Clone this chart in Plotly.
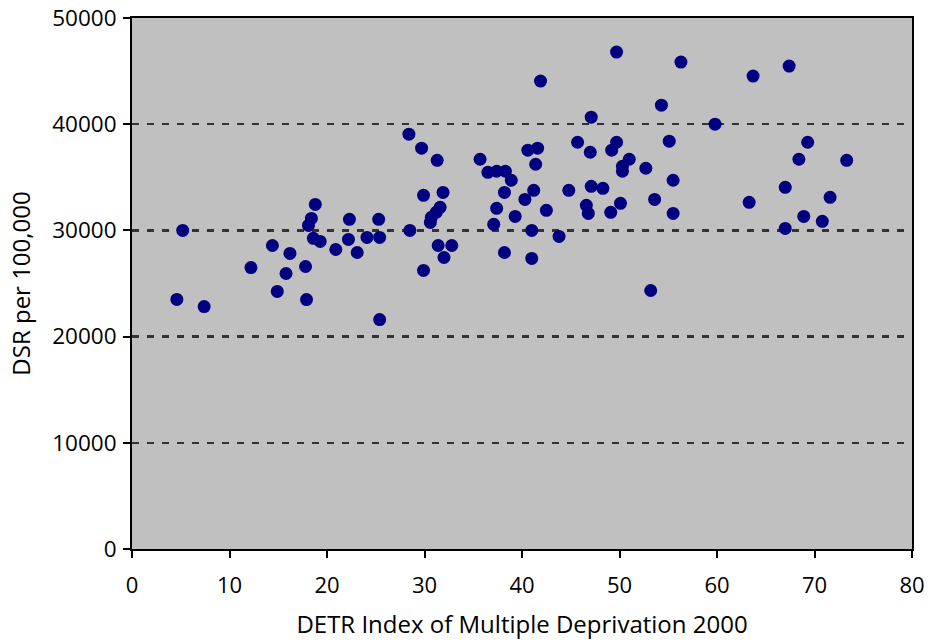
import plotly.graph_objects as go

# DETR Index of Multiple Deprivation 2000 (x) vs DSR per 100,000 (y)
imd = [4.6, 5.2, 7.4, 12.2, 14.4, 14.9, 15.8, 16.2, 17.8, 17.9,
       18.1, 18.4, 18.8, 18.6, 19.3, 20.9, 22.3, 22.2, 23.1, 24.1,
       25.3, 25.4, 25.4, 28.4, 28.5, 29.7, 29.9, 29.9, 30.6, 30.7,
       31.2, 31.3, 31.4, 31.6, 31.9, 32.0, 32.8, 35.7, 36.5, 37.1,
       37.4, 37.4, 38.3, 38.2, 38.2, 38.9, 39.3, 40.3, 40.6, 41.0,
       41.0, 41.2, 41.4, 41.6, 41.9, 42.5, 43.8, 44.8, 45.7, 46.6,
       46.8, 47.0, 47.1, 47.1, 48.3, 49.1, 49.2, 49.7, 49.7, 50.1,
       50.3, 50.3, 51.0, 52.7, 53.2, 53.6, 54.3, 55.1, 55.5, 55.5,
       56.3, 59.8, 63.3, 63.7, 67.0, 67.0, 67.4, 68.4, 68.9, 69.3,
       70.8, 71.6, 73.3]

dsr = [23500, 30000, 22830, 26500, 28580, 24250, 25940, 27830, 26600, 23490,
       30470, 31130, 32450, 29250, 28960, 28200, 31040, 29150, 27920, 29340,
       31040, 29340, 21600, 39060, 30000, 37740, 33300, 26230, 30750, 31230,
       31700, 36600, 28580, 32170, 33580, 27450, 28580, 36700, 35470, 30570,
       35570, 32080, 35570, 33580, 27920, 34720, 31320, 32920, 37550, 30000,
       27360, 33770, 36230, 37740, 44060, 31890, 29430, 33770, 38300, 32360,
       31600, 37360, 40660, 34150, 33960, 31700, 37550, 46790, 38300, 32550,
       36040, 35570, 36700, 35850, 24340, 32920, 41790, 38400, 34720, 31600,
       45850, 40000, 32640, 44530, 34060, 30190, 45470, 36700, 31320, 38300,
       30850, 33110, 36600]

x_ticks = [0, 10, 20, 30, 40, 50, 60, 70, 80]
y_ticks = [0, 10000, 20000, 30000, 40000, 50000]

FONT = "Open Sans"

fig = go.Figure()
fig.add_trace(go.Scatter(
    x=imd, y=dsr, mode="markers",
    marker=dict(color="#000080", size=13, line=dict(width=0)),
    showlegend=False, cliponaxis=False, hoverinfo="skip",
))

fig.update_layout(
    width=928, height=642,
    margin=dict(l=132, r=16, t=18, b=93, autoexpand=False),
    paper_bgcolor="white",
    plot_bgcolor="#C0C0C0",
    font=dict(family=FONT, size=22, color="black"),
)

fig.update_xaxes(
    range=[0, 80], tickvals=x_ticks, ticktext=[str(v) for v in x_ticks],
    showline=True, linecolor="black", linewidth=2, mirror=True,
    ticks="outside", ticklen=7, tickwidth=2, tickcolor="black",
    showgrid=False, zeroline=False, automargin=False,
    tickfont=dict(family=FONT, size=22),
    ticklabelstandoff=9, ticklabeloverflow="allow",
    title=dict(text="DETR Index of Multiple Deprivation 2000",
               font=dict(family=FONT, size=24), standoff=18),
)

fig.update_yaxes(
    range=[0, 50000], tickvals=y_ticks, ticktext=[str(v) for v in y_ticks],
    showline=True, linecolor="black", linewidth=2, mirror=True,
    ticks="outside", ticklen=7, tickwidth=2, tickcolor="black",
    showgrid=True, gridcolor="#333333", gridwidth=2.5, griddash="7px,8px",
    zeroline=False, automargin=False,
    tickfont=dict(family=FONT, size=22.5),
    ticklabelstandoff=2, ticklabeloverflow="allow",
    title=dict(text="DSR per 100,000", font=dict(family=FONT, size=24), standoff=15),
)

fig.write_html(
    "out.html",
    config={"displayModeBar": False, "staticPlot": True},
    post_script="document.body.style.margin='0';document.body.style.overflow='hidden';",
)
